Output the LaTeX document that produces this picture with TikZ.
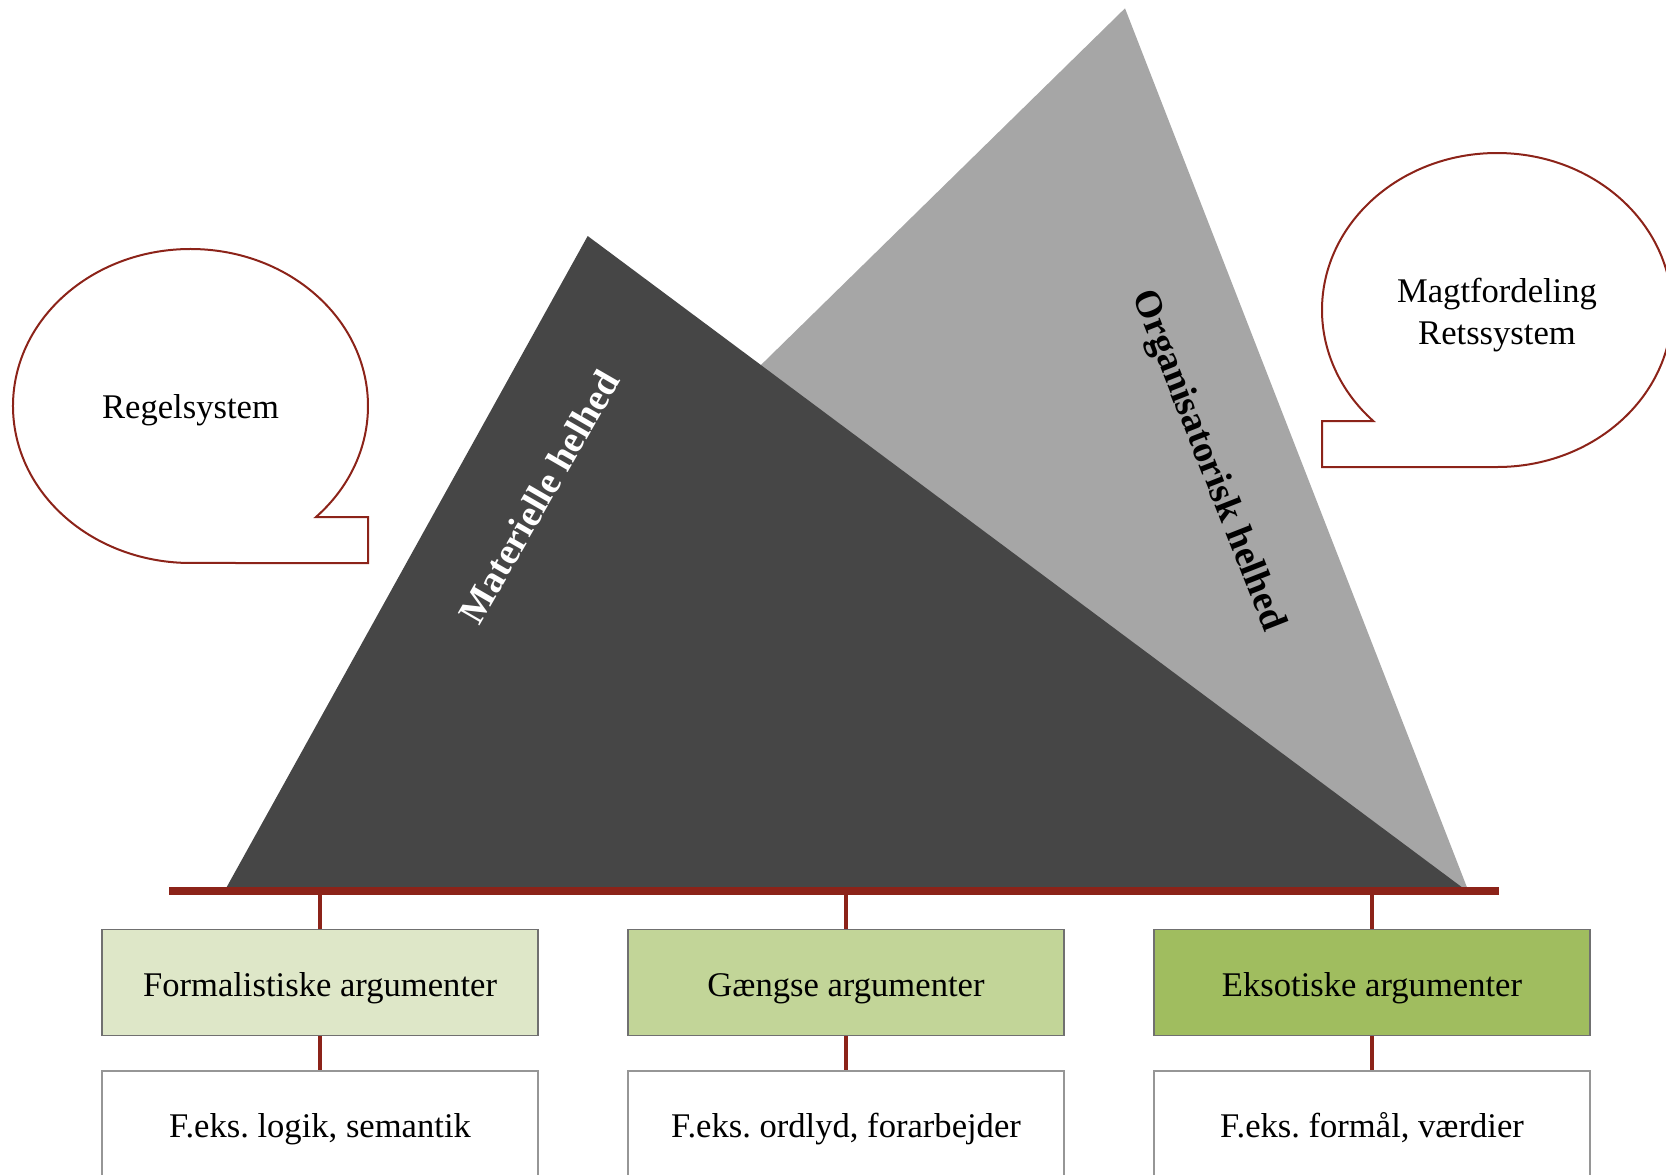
\documentclass[tikz,border=0pt]{standalone}
\usepackage{fontspec}
\setmainfont{Liberation Serif}
\definecolor{redbar}{RGB}{140,35,25}
\definecolor{tridark}{RGB}{70,70,70}
\definecolor{trilight}{RGB}{166,166,166}
\definecolor{fillA}{RGB}{222,231,200}
\definecolor{fillB}{RGB}{194,213,152}
\definecolor{fillC}{RGB}{160,189,95}
\definecolor{edgeA}{RGB}{112,112,112}
\definecolor{edgeB}{RGB}{150,150,150}
\frenchspacing
\begin{document}
\begin{tikzpicture}[x=0.5pt,y=-0.5pt,
  regfont/.style={font=\fontsize{17.3}{21.2}\selectfont},
  boldfont/.style={font=\bfseries\fontsize{19}{23}\selectfont},
  argbox/.style={draw=edgeA, line width=0.6pt, minimum width=218pt, minimum height=53.2pt,
    inner sep=0pt, text height=14.2pt, text depth=0pt, regfont},
  exbox/.style={argbox, draw=edgeB, fill=white, minimum height=54pt, text height=12pt},
  conn/.style={draw=redbar, line width=2pt},
  callout/.style={draw=redbar, line width=1pt, fill=white},
  lbl/.style={inner sep=0pt, regfont}]
\useasboundingbox (0,0) rectangle (1666,1174);
% mountains
\fill[trilight] (1125,8.3) -- (1468.4,891) -- (224,891) -- cycle;
\fill[tridark] (587.7,236) -- (1467,891) -- (224.5,891) -- cycle;
\node[boldfont, text=white, rotate=60] (mat) at (539,497) {Materielle helhed};
\node[boldfont, text=black, rotate=-68.5] (org) at (1207,461) {Organisatorisk helhed};
% bar
\fill[redbar] (169.3,887.3) rectangle (1499,895);
\coordinate (bar) at (0,891.2);
% callouts
\draw[callout] (316,517) arc[start angle=45, end angle=-270, x radius=177.5, y radius=157]
  -- (368,563) -- (368,517) -- cycle;
\node[lbl, text height=11.45pt, text depth=0pt] (reg) at (190.5,406.7) {Regelsystem};
\draw[callout] (1497,467) arc[start angle=90, end angle=-225, x radius=175, y radius=157]
  -- (1322,421) -- (1322,467) -- cycle;
\node[lbl, align=center] (mag) at (1497,315) {Magtfordeling\\Retssystem};
% boxes
\node[argbox, fill=fillA] (b1) at (320,982.5) {Formalistiske argumenter};
\node[argbox, fill=fillB] (b2) at (846,982.5) {Gængse argumenter};
\node[argbox, fill=fillC] (b3) at (1372,982.5) {Eksotiske argumenter};
\node[exbox] (e1) at (320,1125) {F.eks. logik, semantik};
\node[exbox] (e2) at (846,1125) {F.eks. ordlyd, forarbejder};
\node[exbox] (e3) at (1372,1125) {F.eks. formål, værdier};
% connectors
\foreach \b/\e in {b1/e1,b2/e2,b3/e3}{
  \draw[conn] (\b.north) -- (\b.north |- bar);
  \draw[conn] (\b.south) -- (\e.north);
}
\end{tikzpicture}
\end{document}
